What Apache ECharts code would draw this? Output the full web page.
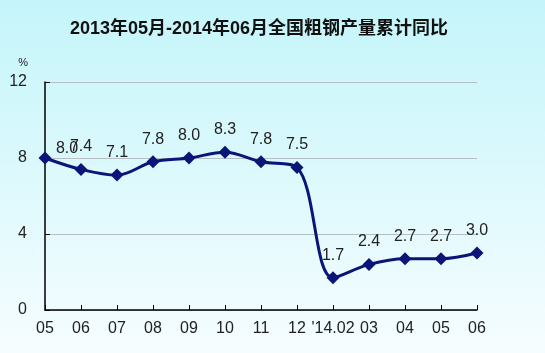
<!DOCTYPE html>
<html>
<head>
<meta charset="utf-8">
<script src="https://cdn.jsdelivr.net/npm/echarts@6/dist/echarts.min.js"></script>
<style>
  html, body { margin: 0; padding: 0; }
  #chart { width: 545px; height: 353px; }
</style>
</head>
<body>
<div id="chart"></div>
<script>
// 月份（2013.05 - 2014.06）
const months = ['05', '06', '07', '08', '09', '10', '11', '12', "'14.02", '03', '04', '05', '06'];
// 粗钢产量累计同比 %
const growth = [8.0, 7.4, 7.1, 7.8, 8.0, 8.3, 7.8, 7.5, 1.7, 2.4, 2.7, 2.7, 3.0];
const yTicks = [0, 4, 8, 12];

const chart = echarts.init(document.getElementById('chart'));
const font = 'Liberation Sans, Arial, sans-serif';

chart.setOption({
  backgroundColor: new echarts.graphic.LinearGradient(0, 0, 0, 1, [
    { offset: 0, color: '#c4f5fa' },
    { offset: 1, color: '#f6fdff' }
  ]),
  title: {
    text: '2013年05月-2014年06月全国粗钢产量累计同比',
    left: 254,
    top: 15,
    textAlign: 'center',
    textStyle: {
      fontFamily: 'Liberation Sans, Noto Sans CJK SC, sans-serif',
      fontSize: 18,
      fontWeight: 'bold',
      color: '#111'
    }
  },
  grid: { left: 45, right: 68, top: 82, bottom: 43 },
  xAxis: {
    type: 'category',
    data: months,
    boundaryGap: false,
    axisLine: { lineStyle: { color: '#000', width: 1.5 } },
    axisTick: { inside: true, length: 5, lineStyle: { color: '#000' } },
    axisLabel: { interval: 0, fontFamily: font, fontSize: 16, color: '#222', margin: 11 }
  },
  yAxis: {
    type: 'value',
    min: yTicks[0],
    max: yTicks[yTicks.length - 1],
    interval: 4,
    name: '%',
    nameGap: 14,
    nameTextStyle: { fontFamily: font, fontSize: 11, color: '#222', align: 'right', padding: [0, 17, 0, 0] },
    axisLine: { show: true, lineStyle: { color: '#000', width: 1.5 } },
    axisTick: { show: true, inside: true, length: 5, lineStyle: { color: '#000' } },
    axisLabel: { fontFamily: font, fontSize: 16, color: '#222', margin: 18 },
    splitLine: { lineStyle: { color: '#b4c0c4', width: 1 } }
  },
  series: [{
    type: 'line',
    data: growth,
    smooth: 0.35,
    symbol: 'diamond',
    symbolSize: 13,
    lineStyle: { color: '#0b1578', width: 3 },
    itemStyle: { color: '#0b1578' },
    label: {
      show: true,
      position: 'top',
      distance: 8,
      fontFamily: font,
      fontSize: 16,
      color: '#222',
      formatter: p => p.value.toFixed(1)
    },
    // 第一个标签在原图里偏右下，与 7.4 重叠
    labelLayout: p => (p.dataIndex === 0 ? { dx: 22, dy: 13 } : {})
  }]
});
</script>
</body>
</html>
